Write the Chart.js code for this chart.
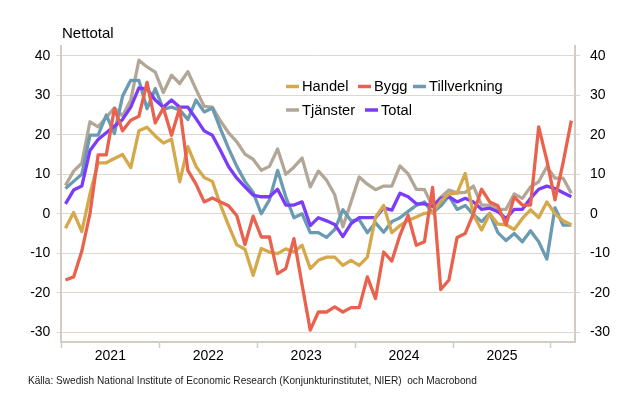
<!DOCTYPE html>
<html>
<head>
<meta charset="utf-8">
<title>Nettotal</title>
<script src="https://cdn.jsdelivr.net/npm/chart.js@4.4.1/dist/chart.umd.min.js"></script>
<style>
  html, body { margin: 0; padding: 0; background: #fff; }
  #wrap { position: relative; width: 621px; height: 397px; font-family: "Liberation Sans", Arial, sans-serif; color: #000; }
  #chart { position: absolute; left: 0; top: 0; }
  #title { position: absolute; left: 62px; top: 25px; font-size: 15px; line-height: 16px; }
  #source { position: absolute; left: 28px; top: 375px; font-size: 10.1px; line-height: 12px; color: #1a1a1a; }
</style>
</head>
<body>
<div id="wrap">
  <canvas id="chart" width="621" height="397"></canvas>
  <div id="title">Nettotal</div>
  <div id="source">Källa: Swedish National Institute of Economic Research (Konjunkturinstitutet, NIER)&nbsp; och Macrobond</div>
</div>
<script>
// ── Data (monthly, Jan 2021 – Mar 2026) ─────────────────
const years = ["2021", "2022", "2023", "2024", "2025"];
const yTicks = [-30, -20, -10, 0, 10, 20, 30, 40];

const handel = [
  -3.7, 0.3, -4.5, 5, 12.9, 12.9, 14, 15, 11.7, 21, 21.9, 19.7,
  17.9, 18.9, 8.1, 17, 12, 9.2, 8.2, 2.2, -3, -7.9, -9, -15.6,
  -8.8, -9.7, -10.1, -8.9, -9.7, -8, -13.9, -11.8, -11, -11, -13.1, -11.8,
  -13.1, -11, -0.9, 2.1, -4.8, -3, -1.7, -0.8, 0.1, 0.3, 3.2, 5,
  5.2, 10.2, -0.3, -4.1, 0, -2.6, -2.8, -4, -1.2, 1, -1, 3,
  0, -1.8, -2.8
];
const bygg = [
  -16.8, -16, -9.5, 0, 14.9, 14.9, 26.7, 21, 23.7, 24.7, 33.3, 23,
  26.8, 19.9, 26.8, 11, 7.5, 3, 4, 3, 2, -0.5, -7.8, -0.6,
  -5.9, -5.9, -15.2, -13.9, -6.3, -18, -29.5, -24.9, -24.9, -23.6, -24.9, -23.8,
  -23.8, -16, -21.5, -9.7, -12, -5.4, -0.4, -8, -7.1, 6.7, -19.2, -16.8,
  -6, -5, 0, 6.2, 3, 2, -2.8, 4.2, 2.2, 2.2, 22, 13.5,
  3.5, 13, 23.6
];
const tillverkning = [
  6.4, 8.2, 10, 19.9, 19.9, 25, 20.3, 29.8, 33.8, 33.8, 26.6, 31.7,
  26.5, 27, 26.3, 23.9, 28.8, 25.8, 26.8, 21.5, 16.5, 12, 8.2, 5.4,
  0, 3.5, 11, 4.3, -1, 0, -4.8, -4.8, -6, -4, 1, -1.8,
  -1.5, -4.8, -2.3, -4.7, -2, -1, 0.6, 2.1, 3, 0.2, 2, 4.5,
  1.1, 2.1, -0.2, -2, 0.1, -4.8, -6.8, -5, -7.1, -4.3, -7.1, -11.5,
  1.5, -2.9, -2.9
];
const tjanster = [
  7.2, 10.8, 12.8, 23.3, 22, 24.4, 26.8, 24.8, 28.8, 38.9, 37.2, 35.9,
  30.7, 35.1, 33, 36, 31.5, 27.2, 27, 23.5, 20.5, 18.2, 15.1, 13.8,
  11, 12, 16.4, 10, 11.8, 14.1, 6.8, 10.8, 8.5, 4.8, -3.3, 3,
  9.3, 7.5, 6.1, 7, 7, 12.1, 10.1, 6.2, 6.1, 1.8, 4.2, 6,
  5.3, 5.4, 7, 2.2, 2.2, 1.1, 1.1, 5, 3.9, 6.8, 8.1, 11.9,
  9, 9, 5.2
];
const total = [
  2.5, 6, 7, 16, 18.8, 20.5, 22.2, 23.9, 27, 31.9, 31.6, 28.8,
  27, 28.8, 27, 27, 24.1, 21, 19.9, 16, 11.9, 9, 6.8, 4.7,
  4.3, 4.3, 6.2, 2.2, 2.2, 3, -3, -1, -1.8, -2.7, -5.8, -2.5,
  -1, -1, -1, 1.5, 0.9, 5.2, 4.3, 2.5, 2.5, 1.9, 3.9, 4.3,
  3, 3.9, 3, 1.1, 1.4, 0.5, -1.2, 1.1, 1.1, 3.9, 6.2, 7,
  6.4, 5.3, 4.3
];

// ── Style ─────────────────────────────────────────────
const FONT = "'Liberation Sans', Arial, sans-serif";
const axisColor = "#d4ccc1";
const gridColor = "#ddd7cf";

const series = [
  { label: "Handel", data: handel, color: "#d5a94b", order: 1 },
  { label: "Bygg", data: bygg, color: "#e9624e", order: 0 },
  { label: "Tillverkning", data: tillverkning, color: "#6b9bb2", order: 3 },
  { label: "Tjänster", data: tjanster, color: "#b2a797", order: 4 },
  { label: "Total", data: total, color: "#7a3cf8", order: 2 }
];

// points sit mid-month on a month-index axis
const toPoints = (arr) => arr.map((v, i) => ({ x: i + 0.5, y: v }));

// ── Legend drawn inside the plot ──────────────────────
const legendRows = [
  [{ name: "Handel", x: 286 }, { name: "Bygg", x: 358 }, { name: "Tillverkning", x: 413 }],
  [{ name: "Tjänster", x: 286 }, { name: "Total", x: 365 }]
];
const legendPlugin = {
  id: "innerLegend",
  afterDraw(chart) {
    const ctx = chart.ctx;
    ctx.save();
    ctx.font = "14.7px " + FONT;
    ctx.textBaseline = "middle";
    ctx.fillStyle = "#000";
    legendRows.forEach((row, r) => {
      const y = 86.5 + r * 23.5;
      row.forEach((item) => {
        const s = series.find((d) => d.label === item.name);
        ctx.strokeStyle = s.color;
        ctx.lineWidth = 3.5;
        ctx.beginPath();
        ctx.moveTo(item.x, y);
        ctx.lineTo(item.x + 13, y);
        ctx.stroke();
        ctx.fillText(item.name, item.x + 16, y + 0.5);
      });
    });
    ctx.restore();
  }
};

new Chart(document.getElementById("chart"), {
  type: "line",
  data: {
    datasets: series.map((s) => ({
      label: s.label,
      data: toPoints(s.data),
      borderColor: s.color,
      backgroundColor: s.color,
      borderWidth: 3.3,
      pointRadius: 0,
      tension: 0,
      borderJoinStyle: "round",
      order: s.order
    }))
  },
  options: {
    responsive: false,
    animation: false,
    devicePixelRatio: 1,
    layout: { padding: { left: 0, right: 0, top: 46, bottom: 25 } },
    plugins: { legend: { display: false }, tooltip: { enabled: false } },
    scales: {
      x: {
        type: "linear",
        min: 0,
        max: 63,
        afterBuildTicks: (s) => {
          s.ticks = [0, 6, 12, 18, 24, 30, 36, 42, 48, 54, 60].map((v) => ({ value: v }));
        },
        afterFit: (s) => { s.height = 30; },
        border: { color: axisColor, width: 2 },
        grid: {
          drawOnChartArea: false,
          tickLength: 6,
          tickWidth: 1.5,
          tickColor: (c) => (c.tick && c.tick.value % 12 === 0 ? axisColor : "rgba(0,0,0,0)")
        },
        ticks: {
          autoSkip: false,
          maxRotation: 0,
          padding: 0,
          color: "#000",
          font: { family: FONT, size: 14 },
          callback: (v) => (v % 12 === 6 ? years[(v - 6) / 12] : "")
        }
      },
      y: {
        position: "left",
        min: -32.5,
        max: 42.5,
        afterBuildTicks: (s) => { s.ticks = yTicks.map((v) => ({ value: v })); },
        afterFit: (s) => { s.width = 61.4; },
        border: { color: axisColor, width: 2 },
        grid: { color: gridColor, lineWidth: 1, tickLength: 5 },
        ticks: { color: "#000", padding: 6, font: { family: FONT, size: 14 } }
      },
      y2: {
        position: "right",
        min: -32.5,
        max: 42.5,
        afterBuildTicks: (s) => { s.ticks = yTicks.map((v) => ({ value: v })); },
        afterFit: (s) => { s.width = 45.6; },
        border: { color: axisColor, width: 2 },
        grid: { drawOnChartArea: false, color: gridColor, tickLength: 5 },
        ticks: { color: "#000", padding: 9.5, font: { family: FONT, size: 14 } }
      }
    }
  },
  plugins: [legendPlugin]
});
</script>
</body>
</html>
